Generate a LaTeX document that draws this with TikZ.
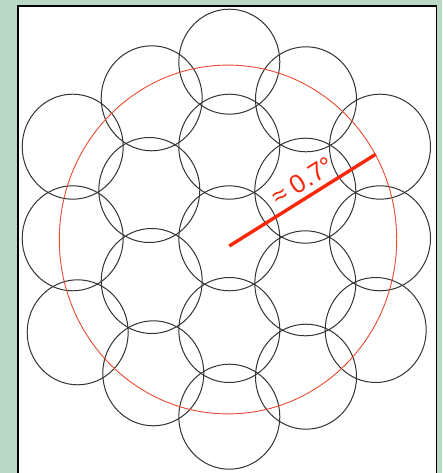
\documentclass[tikz,border=0pt]{standalone}
\usepackage{fontspec}
\newfontfamily\labelfont{Liberation Sans}
\definecolor{panelgreen}{RGB}{185,216,197}
\definecolor{ringred}{RGB}{232,74,50}
\definecolor{linered}{RGB}{250,40,10}

\begin{document}
\begin{tikzpicture}[x=1pt, y=-1pt]

% Background and panel
\fill[panelgreen] (0, 0) rectangle (442, 473);
\useasboundingbox (0, 0) rectangle (442, 473);
\draw[line width=1.6pt, fill=white] (17.8, 6.3) rectangle (436.6, 480);

% Hexagonal pattern of fields
\foreach \cx/\cy in {229.3/61.7,
    151.7/98.3, 306/99.3,
    72.7/146.7, 229.3/146.7, 380/146.7,
    149.3/190, 305.3/190.7,
    72.7/238.3, 229.3/238.3, 380/238.3,
    151.7/281, 305.3/283.3,
    77.7/332.3, 229.3/330, 375.7/330,
    153.3/373.3, 306/376.7,
    229.3/416.7}
  \draw[line width=1pt, black!80] (\cx, \cy) ellipse [x radius=50.5pt, y radius=52.5pt];

% Outer ring
\draw[ringred, line width=0.9pt] (228, 239.5) ellipse [x radius=168.7pt, y radius=174.4pt];

% Radius with angle label
\coordinate (centre) at (229.3, 246);
\coordinate (rim) at (375.7, 154.3);
\draw[linered, line width=3.4pt] (centre) -- (rim)
  node[pos=0.56, sloped, above=5pt, inner sep=0pt, text=linered, font=\labelfont\fontsize{26}{31}\selectfont] (angle) {≈ 0.7°};

\end{tikzpicture}
\end{document}
